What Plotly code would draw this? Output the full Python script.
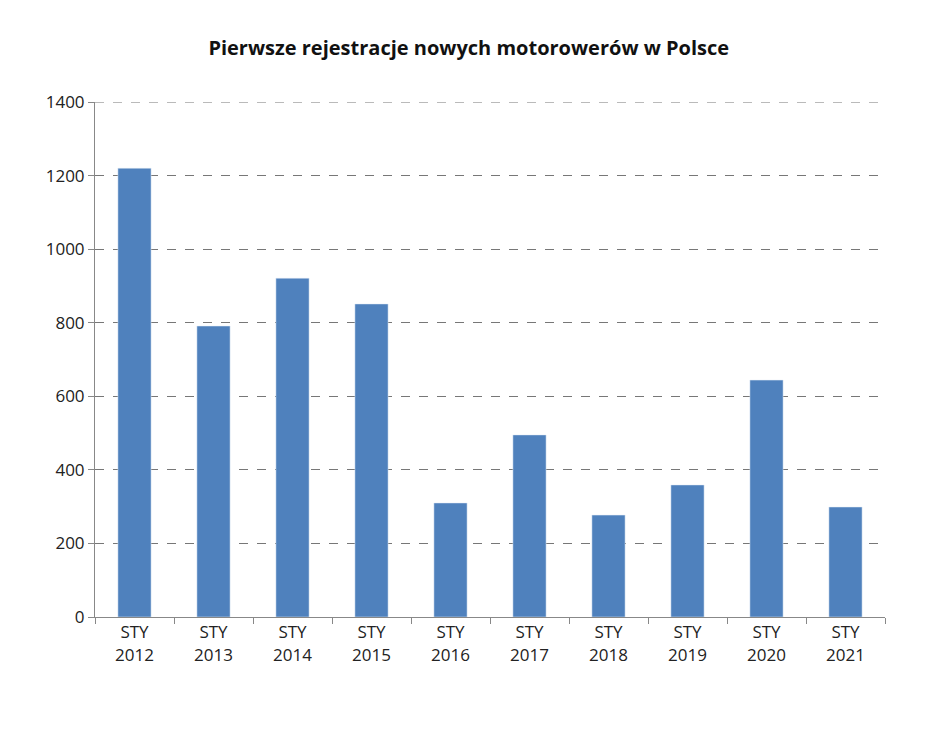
import plotly.graph_objects as go

categories = ["STY<br>2012","STY<br>2013","STY<br>2014","STY<br>2015","STY<br>2016","STY<br>2017","STY<br>2018","STY<br>2019","STY<br>2020","STY<br>2021"]
values = [1220, 791, 921, 851, 310, 495, 277, 359, 644, 299]
y_ticks = [0, 200, 400, 600, 800, 1000, 1200, 1400]

fig = go.Figure(go.Bar(x=categories, y=values, marker_color="#4f81bd", width=0.42))
fig.update_layout(
    width=950, height=730, paper_bgcolor="white", plot_bgcolor="white",
    margin=dict(l=87, r=73, t=94, b=121),
    font=dict(family="Open Sans, Liberation Sans", size=17, color="#222"),
    title=dict(text="<b>Pierwsze rejestracje nowych motorowerów w Polsce</b>", x=0.485, xanchor="center", y=0.955, font=dict(size=20, color="#111")),
    showlegend=False,
)
fig.update_yaxes(range=[0, 1400], tickvals=y_ticks, showgrid=True, gridcolor="#777", griddash="dash",
                 showline=True, linecolor="#888", ticks="outside", ticklen=6, tickcolor="#888", zeroline=False)
fig.update_xaxes(showline=True, linecolor="#888", ticks="outside", ticklen=6, tickcolor="#888", tickson="boundaries")
fig.add_hline(y=1400, line=dict(color="#777", dash="dash", width=1))
fig.write_html("out.html")
